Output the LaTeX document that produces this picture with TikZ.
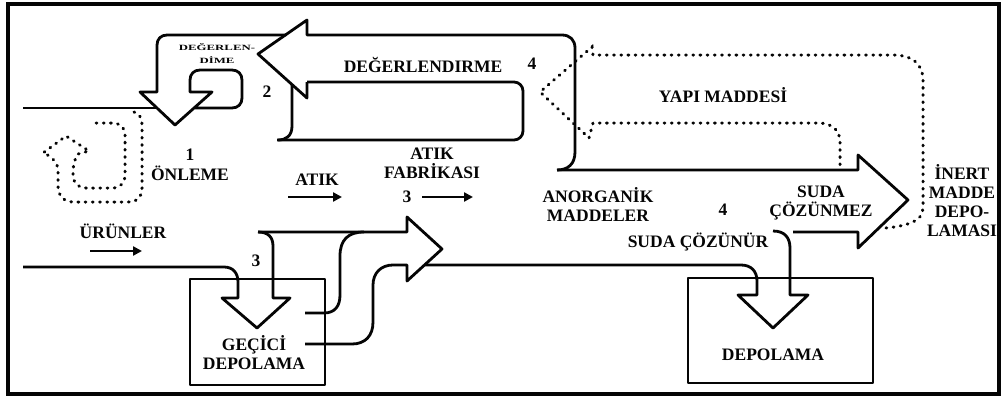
\documentclass[tikz,border=0pt]{standalone}
\usepackage{fontspec}
\setmainfont{Liberation Serif}
\usetikzlibrary{arrows.meta}
\definecolor{ink}{HTML}{050505}

\begin{document}
\begin{tikzpicture}[x=1pt,y=-1pt,
    band/.style={draw=ink,line width=2.8pt,line join=round},
    dots/.style={draw=ink,line width=3pt,line cap=round,dash pattern=on 0.8pt off 6.4pt},
    lbl/.style={font=\fontsize{17.5}{19}\selectfont\bfseries,text=ink,inner sep=0pt,align=center},
    tiny/.style={font=\fontsize{8}{8}\selectfont\bfseries,text=ink,inner sep=0pt},
    flow/.style={draw=ink,line width=2.6pt,-{Triangle[length=9pt,width=9pt]}}]
  \useasboundingbox (0,0) rectangle (1003,399);
  \fill[white] (0,0) rectangle (1003,399);
  \draw[ink,line width=3.4pt] (8,4) rectangle (999,394);

  % upper stream and small recovery arrow
  \draw[band] (23,108) -- (157,108);
  \draw[band] (286,35) -- (167,35) .. controls (161,35) and (157,39) .. (157,45) -- (157,92) -- (140,92)
    -- (175,125) -- (212,92) -- (190,92) -- (190,80) .. controls (190,74) and (194,70) .. (200,70) -- (232,70)
    .. controls (238,70) and (242,74) .. (242,80) -- (242,98) .. controls (242,104) and (238,108) .. (232,108) -- (194,108);

  % big band: recovery arrow to the left, insoluble arrow to the right
  \draw[band] (557,170) .. controls (568,170) and (575,164) .. (575,152) -- (575,48)
    .. controls (575,40) and (570,35) .. (562,35) -- (307,35) -- (307,20) -- (258,54) -- (307,98) -- (307,82);
  \draw[band,rounded corners=9pt] (307,82) -- (523,82) -- (523,140) -- (277,140);
  \draw[band] (292,84) -- (292,126) .. controls (292,136) and (286,140) .. (278,140);
  \draw[band] (557,170) -- (858,170) -- (858,155) -- (908,200) -- (858,248) -- (858,232) -- (793,232);
  \draw[band] (773,231) .. controls (785,231) and (790,238) .. (790,248) -- (790,295) -- (808,295) -- (773,328)
    -- (738,295) -- (757,295) -- (757,281) .. controls (757,271) and (751,265) .. (741,265) -- (424,265);

  % temporary storage
  \draw[band] (190,279) rectangle (325,385);
  \draw[band] (23,267) -- (224,267) .. controls (233,267) and (238,273) .. (238,282) -- (238,298) -- (222,298)
    -- (257,328) -- (290,298) -- (273,298) -- (273,246) .. controls (273,237) and (268,232) .. (258,232);
  \draw[band] (258,232) -- (407,232) -- (407,217) -- (442,249) -- (407,281) -- (407,265) -- (393,265)
    .. controls (381,265) and (373,273) .. (373,285) -- (373,322) .. controls (373,336) and (365,344) .. (352,344) -- (305,344);
  \draw[band] (305,313) -- (324,313) .. controls (335,313) and (340,306) .. (340,295) -- (340,256)
    .. controls (340,240) and (348,232) .. (364,232);

  % storage
  \draw[band] (688,278) rectangle (873,383);

  % dotted paths
  \draw[dots] (886,228) .. controls (905,226) and (923,222) .. (923,208) -- (923,80) .. controls (923,64) and (912,55) .. (893,55)
    -- (593,55) -- (592,47) -- (540,92) -- (589,138) -- (593,123) -- (818,123) .. controls (832,123) and (840,130) .. (840,142) -- (840,168);
  \draw[dots] (134,112) .. controls (139,113) and (142,118) .. (142,126) -- (142,188) .. controls (142,197) and (137,202) .. (128,202)
    -- (74,202) .. controls (64,202) and (58,196) .. (58,186) -- (58,170) .. controls (58,163) and (52,157) .. (46,154)
    -- (43,153) -- (66,136) -- (89,151) -- (78,154) .. controls (74,160) and (73,166) .. (73,174)
    .. controls (73,183) and (78,188) .. (86,188) -- (112,188) .. controls (120,188) and (125,183) .. (125,175)
    -- (125,135) .. controls (125,127) and (120,123) .. (112,123) -- (92,123);

  % small flow arrows
  \foreach \n/\xa/\xb/\yy in {atik/288/342/197, fab/422/473/197, urun/90/142/251}{
    \draw[flow] (\xa,\yy) coordinate (\n s) -- (\xb,\yy) coordinate (\n e);}

  \node[tiny] (degA) at (217,47) {\scalebox{1.6}[1]{DEĞERLEN-}};
  \node[tiny] (degB) at (217,60) {\scalebox{1.6}[1]{DİME}};
  \node[lbl] (deg) at (423,65) {DEĞERLENDIRME};
  \node[lbl] (fourA) at (532,64) {4};
  \node[lbl] (two) at (267,92) {2};
  \node[lbl] (yapi) at (723,95) {YAPI MADDESİ};
  \node[lbl] (one) at (190,155) {1};
  \node[lbl] (onleme) at (190,173) {ÖNLEME};
  \node[lbl] (atik) at (317,180) {ATIK};
  \node[lbl] (fabrika) at (432,163) {ATIK\\FABRİKASI};
  \node[lbl] (threeA) at (407,197) {3};
  \node[lbl] (anorg) at (598,205) {ANORGANİK\\MADDELER};
  \node[lbl] (fourB) at (723,210) {4};
  \node[lbl] (cozunmez) at (821,203) {SUDA\\ÇÖZÜNMEZ};
  \node[lbl] (inert) at (962,201) {İNERT\\MADDE\\DEPO-\\LAMASI};
  \node[lbl] (cozunur) at (698,242) {SUDA ÇÖZÜNÜR};
  \node[lbl] (urunler) at (123,231) {ÜRÜNLER};
  \node[lbl] (threeB) at (256,261) {3};
  \node[lbl] (gecici) at (254,353) {GEÇİCİ\\DEPOLAMA};
  \node[lbl] (depo) at (773,355) {DEPOLAMA};
\end{tikzpicture}
\end{document}
